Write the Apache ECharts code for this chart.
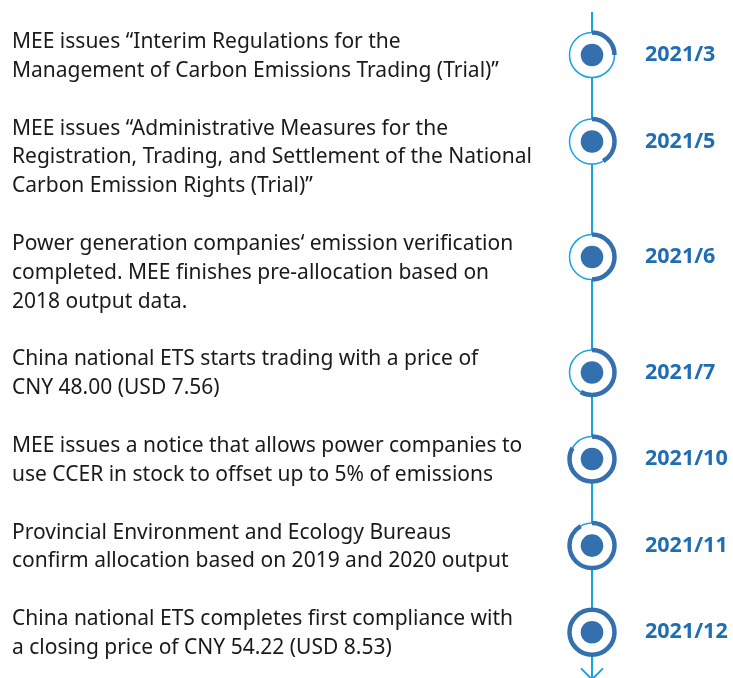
<!DOCTYPE html>
<html>
<head>
<meta charset="utf-8">
<script src="https://cdn.jsdelivr.net/npm/echarts@6/dist/echarts.min.js"></script>
<style>
html,body{margin:0;padding:0;background:#fff;}
#main{width:733px;height:678px;}
</style>
</head>
<body>
<div id="main"></div>
<script>
// timeline data
const dates = ['2021/3', '2021/5', '2021/6', '2021/7', '2021/10', '2021/11', '2021/12'];
const months = [3, 5, 6, 7, 10, 11, 12];
const events = [
	['MEE issues “Interim Regulations for the', 'Management of Carbon Emissions Trading (Trial)”'],
	['MEE issues “Administrative Measures for the', 'Registration, Trading, and Settlement of the National', 'Carbon Emission Rights (Trial)”'],
	['Power generation companies‘ emission verification', 'completed. MEE finishes pre-allocation based on', '2018 output data.'],
	['China national ETS starts trading with a price of', 'CNY 48.00 (USD 7.56)'],
	['MEE issues a notice that allows power companies to', 'use CCER in stock to offset up to 5% of emissions'],
	['Provincial Environment and Ecology Bureaus', 'confirm allocation based on 2019 and 2020 output'],
	['China national ETS completes first compliance with', 'a closing price of CNY 54.22 (USD 8.53)']
];

const LINE_BLUE = '#17a2e4';
const DARK_BLUE = '#3370ad';
const DATE_BLUE = '#1f6db2';
const FONT = '"Noto Sans", sans-serif';

// each event starts after the previous one plus a blank line
let startLine = [];
let acc = 0;
for (let i = 0; i < events.length; i++) {
	startLine.push(acc);
	acc += events[i].length + 1;
}

const TEXT_X = 12, DOT_X = 592, DATE_X = 645;

let chart = echarts.init(document.getElementById('main'));
let option = {
	animation: false,
	grid: {left: 0, right: 0, top: 0, bottom: 0},
	xAxis: {type: 'value', min: 0, max: 733, show: false},
	yAxis: {type: 'value', inverse: true, min: -1.4553, max: 22.037, show: false},
	series: [
		{
			// spine with arrow
			type: 'custom',
			z: 1,
			data: [[0]],
			renderItem: function(params, api){
				let top = api.coord([DOT_X, -1.04]);
				let bot = api.coord([DOT_X, 22.12]);
				return {
					type: 'group',
					children: [
						{type: 'line', shape: {x1: top[0], y1: top[1], x2: bot[0], y2: bot[1]}, style: {stroke: LINE_BLUE, lineWidth: 2}},
						{type: 'polyline', shape: {points: [[bot[0] - 11, bot[1] - 12], [bot[0], bot[1] - 1], [bot[0] + 11, bot[1] - 12]]}, style: {stroke: LINE_BLUE, lineWidth: 2, fill: null}}
					]
				};
			}
		},
		{
			type: 'custom',
			z: 2,
			data: months.map(function(m, i){ return [m, startLine[i], i]; }),
			renderItem: function(params, api){
				let i = api.value(2);
				let m = api.value(0);
				let s = api.value(1);
				let c = api.coord([DOT_X, s + 0.45]);
				let txt = api.coord([TEXT_X, s - 0.5]);
				let dt = api.coord([DATE_X, s + 0.45]);
				let lh = api.size([0, 1])[1];
				let children = [
					{type: 'circle', shape: {cx: c[0], cy: c[1], r: 22.5}, style: {fill: '#fff', stroke: LINE_BLUE, lineWidth: 1.5}},
					{type: 'circle', shape: {cx: c[0], cy: c[1], r: 11.3}, style: {fill: DARK_BLUE}}
				];
				if (m >= 12) {
					children.push({type: 'circle', shape: {cx: c[0], cy: c[1], r: 22.5}, style: {fill: null, stroke: DARK_BLUE, lineWidth: 4.5}});
				} else {
					children.push({type: 'arc', shape: {cx: c[0], cy: c[1], r: 22.5, startAngle: -Math.PI / 2, endAngle: -Math.PI / 2 + Math.PI * 2 * m / 12, clockwise: true}, style: {fill: null, stroke: DARK_BLUE, lineWidth: 4.5}});
				}
				children.push({type: 'text', x: txt[0], y: txt[1], style: {text: events[i].join('\n'), fill: '#1a1a1a', font: '21px ' + FONT, lineHeight: lh, verticalAlign: 'top', align: 'left'}});
				children.push({type: 'text', x: dt[0], y: dt[1], style: {text: dates[i], fill: DATE_BLUE, font: 'bold 21.5px ' + FONT, verticalAlign: 'middle', align: 'left'}});
				return {type: 'group', children: children};
			}
		}
	]
};
chart.setOption(option);
</script>
</body>
</html>
